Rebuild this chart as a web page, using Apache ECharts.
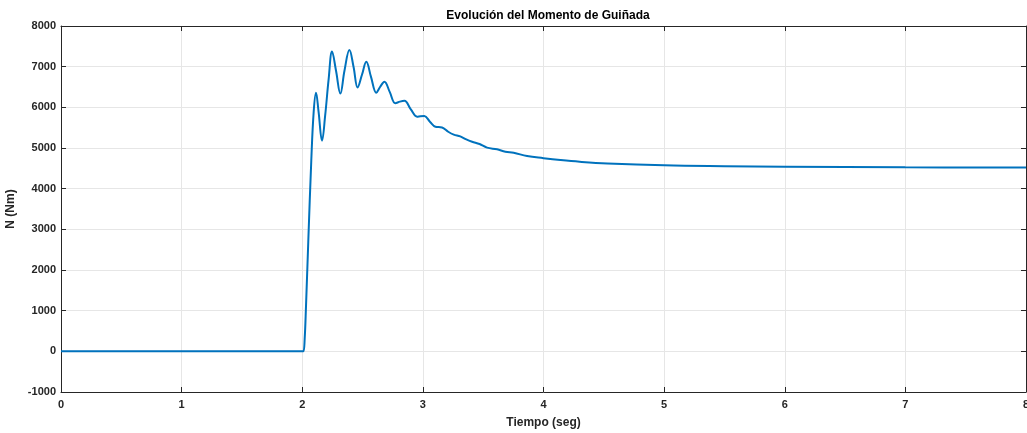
<!DOCTYPE html>
<html><head><meta charset="utf-8">
<script src="https://cdn.jsdelivr.net/npm/echarts@6/dist/echarts.min.js"></script>
<style>html,body{margin:0;padding:0;background:#fff}#c{width:1027px;height:433px}</style>
</head><body><div id="c"></div>
<script>
const times = [0, 1, 2.0, 2.01, 2.02, 2.031, 2.05, 2.075, 2.095, 2.114, 2.135, 2.164, 2.19, 2.219, 2.247, 2.28, 2.316, 2.35, 2.391, 2.425, 2.459, 2.495, 2.531, 2.57, 2.614, 2.645, 2.681, 2.725, 2.772, 2.81, 2.847, 2.9, 2.952, 2.98, 3.012, 3.06, 3.104, 3.159, 3.21, 3.256, 3.31, 3.36, 3.408, 3.47, 3.532, 3.615, 3.684, 3.753, 3.864, 4.0, 4.14, 4.3, 4.53, 5.0, 5.5, 6, 7, 8];
const moment = [0, 0, 0, 0, 300, 1100, 2700, 4700, 5900, 6360, 5900, 5180, 5800, 6700, 7370, 6900, 6340, 6900, 7410, 7000, 6490, 6800, 7120, 6750, 6360, 6500, 6630, 6380, 6100, 6140, 6160, 5950, 5770, 5780, 5785, 5640, 5523, 5505, 5400, 5330, 5285, 5210, 5154, 5097, 5010, 4967, 4908, 4883, 4802, 4750, 4704, 4662, 4620, 4573, 4552, 4540, 4525, 4520];
const xTicks = [0,1,2,3,4,5,6,7,8];
const yTicks = [-1000,0,1000,2000,3000,4000,5000,6000,7000,8000];
const titleText = 'Evolución del Momento de Guiñada';
const xName = 'Tiempo (seg)';
const yName = 'N (Nm)';

const data = times.map((t,i)=>[t, moment[i]]);
const font = 'Liberation Sans, Arial, sans-serif';
const axCol = '#262626';
const chart = echarts.init(document.getElementById('c'), null, {renderer:'canvas'});
const baseX = {type:'value', min:xTicks[0], max:xTicks[xTicks.length-1], interval:1};
const baseY = {type:'value', min:yTicks[0], max:yTicks[yTicks.length-1], interval:1000};
chart.setOption({
  animation:false,
  title:{text:titleText, left:543, top:5, textAlign:'center',
    textStyle:{fontFamily:font, fontSize:12, fontWeight:'bold', color:'#000'}},
  grid:{left:61, right:1, top:26, bottom:41, containLabel:false, outerBoundsMode:'none'},
  xAxis:[
    Object.assign({}, baseX, {position:'bottom', name:xName, nameLocation:'middle', nameGap:25,
      nameTextStyle:{fontFamily:font, fontSize:12, fontWeight:'bold', color:axCol},
      axisLine:{show:true, onZero:false, lineStyle:{color:axCol, width:1}},
      axisTick:{show:true, inside:true, length:5, lineStyle:{color:axCol}},
      axisLabel:{fontFamily:font, fontSize:11, fontWeight:'bold', color:axCol, margin:7, formatter:v=>String(v)},
      splitLine:{show:true, lineStyle:{color:'#e6e6e6', width:1}}}),
    Object.assign({}, baseX, {position:'top',
      axisLine:{show:true, onZero:false, lineStyle:{color:axCol, width:1}},
      axisTick:{show:true, inside:true, length:5, lineStyle:{color:axCol}},
      axisLabel:{show:false}, splitLine:{show:false}})
  ],
  yAxis:[
    Object.assign({}, baseY, {position:'left', name:yName, nameLocation:'middle', nameGap:41,
      nameTextStyle:{fontFamily:font, fontSize:12, fontWeight:'bold', color:axCol},
      axisLine:{show:true, onZero:false, lineStyle:{color:axCol, width:1}},
      axisTick:{show:true, inside:true, length:5, lineStyle:{color:axCol}},
      axisLabel:{fontFamily:font, fontSize:11, fontWeight:'bold', color:axCol, margin:5, formatter:v=>String(v)},
      splitLine:{show:true, lineStyle:{color:'#e6e6e6', width:1}}}),
    Object.assign({}, baseY, {position:'right',
      axisLine:{show:true, onZero:false, lineStyle:{color:axCol, width:1}},
      axisTick:{show:true, inside:true, length:5, lineStyle:{color:axCol}},
      axisLabel:{show:false}, splitLine:{show:false}})
  ],
  series:[{type:'line', data:data, xAxisIndex:0, yAxisIndex:0, showSymbol:false,
    smooth:0.4, lineStyle:{color:'#0072BD', width:2}}]
});
</script></body></html>
